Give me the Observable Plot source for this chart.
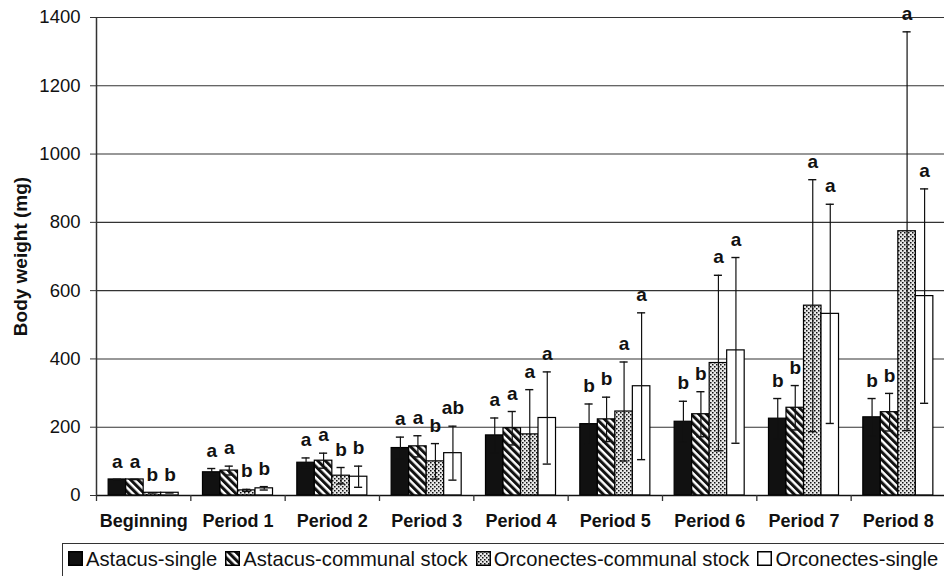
<!DOCTYPE html>
<html>
<head>
<meta charset="utf-8">
<script src="https://cdn.jsdelivr.net/npm/d3@7"></script>
<script src="https://cdn.jsdelivr.net/npm/@observablehq/plot@0.6"></script>
<style>
  html, body { margin: 0; padding: 0; background: #fff; overflow: hidden; }
  #wrap { position: relative; width: 944px; height: 576px; overflow: hidden; font-family: "Liberation Sans", Arial, sans-serif; color: #111; }
  #wrap svg.chart { display: block; }
  #legend { position: absolute; left: 62px; top: 543px; width: 1000px; height: 60px; box-sizing: border-box;
            border: 1.5px solid #333; padding: 6px 0 0 5px; white-space: nowrap; font-size: 20.2px; line-height: 19px; }
  #legend .item { margin-right: 8px; }
  #legend .sw { vertical-align: baseline; margin-right: 3px; }
</style>
</head>
<body>
<svg width="0" height="0" style="position:absolute">
  <defs>
    <pattern id="hatch" patternUnits="userSpaceOnUse" width="5.4" height="5.4" patternTransform="rotate(-45)">
      <rect width="5.4" height="5.4" fill="#fff"/>
      <rect width="3" height="5.4" fill="#111"/>
    </pattern>
    <pattern id="dots" patternUnits="userSpaceOnUse" width="4" height="4">
      <rect width="4" height="4" fill="#e8e8e8"/>
      <rect x="0" y="0" width="1.5" height="1.5" fill="#111"/>
      <rect x="2" y="2" width="1.5" height="1.5" fill="#111"/>
    </pattern>
  </defs>
</svg>
<div id="wrap"></div>
<script>
const periods = ["Beginning", "Period 1", "Period 2", "Period 3", "Period 4", "Period 5", "Period 6", "Period 7", "Period 8"];
const series = ["Astacus-single", "Astacus-communal stock", "Orconectes-communal stock", "Orconectes-single"];

const astacusSingleMean = [47, 68, 96, 139, 176, 209, 216, 225, 229];
const astacusSingleSD = [0, 11, 14, 32, 51, 59, 60, 59, 55];
const astacusSingleLetters = ["a", "a", "a", "a", "a", "b", "b", "b", "b"];

const astacusCommunalMean = [47, 73, 102, 144, 197, 223, 238, 257, 244];
const astacusCommunalSD = [0, 13, 22, 31, 49, 65, 66, 65, 55];
const astacusCommunalLetters = ["a", "a", "a", "a", "a", "b", "b", "b", "b"];

const orconectesCommunalMean = [8, 15, 58, 100, 179, 246, 388, 556, 774];
const orconectesCommunalSD = [0, 3, 24, 52, 131, 145, 257, 369, 584];
const orconectesCommunalLetters = ["b", "b", "b", "b", "a", "a", "a", "a", "a"];

const orconectesSingleMean = [8, 21, 55, 124, 227, 320, 425, 532, 584];
const orconectesSingleSD = [0, 5, 31, 79, 135, 215, 272, 321, 314];
const orconectesSingleLetters = ["b", "b", "b", "ab", "a", "a", "a", "a", "a"];

const yTicks = [0, 200, 400, 600, 800, 1000, 1200, 1400];

const means = [astacusSingleMean, astacusCommunalMean, orconectesCommunalMean, orconectesSingleMean];
const sds = [astacusSingleSD, astacusCommunalSD, orconectesCommunalSD, orconectesSingleSD];
const letters = [astacusSingleLetters, astacusCommunalLetters, orconectesCommunalLetters, orconectesSingleLetters];
const fills = ["#111", "url(#hatch)", "url(#dots)", "#fff"];

// layout inside each period band (fractions of one band)
const barW = 0.1856;
const pad = (1 - 4 * barW) / 2;
const capHalf = 0.043;

const rows = [];
periods.forEach((p, pi) => {
  series.forEach((s, si) => {
    const x1 = pi + pad + si * barW;
    const m = means[si][pi], sd = sds[si][pi];
    rows.push({period: p, series: s, si, x1, x2: x1 + barW, xc: x1 + barW / 2,
               mean: m, lo: m - sd, hi: m + sd, letter: letters[si][pi]});
  });
});

const chart = Plot.plot({
  width: 944,
  height: 540,
  marginTop: 17,
  marginBottom: 45,
  marginLeft: 96,
  marginRight: 0,
  style: {fontFamily: "'Liberation Sans', Arial, sans-serif", fontSize: "18.5px", color: "#111", background: "#fff"},
  x: {domain: [0, periods.length], range: [96, 945]},
  y: {domain: [0, 1400]},
  marks: [
    Plot.gridY(yTicks.slice(1), {stroke: "#333", strokeOpacity: 1, strokeWidth: 1.1}),
    Plot.rectY(rows, {x1: "x1", x2: "x2", y1: 0, y2: "mean", fill: d => fills[d.si], stroke: "#000", strokeWidth: 1.2}),
    Plot.ruleX(rows, {x: "xc", y1: "lo", y2: "hi", stroke: "#111", strokeWidth: 1.2}),
    Plot.ruleY(rows, {y: "hi", x1: d => d.xc - capHalf, x2: d => d.xc + capHalf, stroke: "#111", strokeWidth: 1.4}),
    Plot.ruleY(rows, {y: "lo", x1: d => d.xc - capHalf, x2: d => d.xc + capHalf, stroke: "#111", strokeWidth: 1.4}),
    Plot.ruleY([0], {stroke: "#111", strokeWidth: 1.5}),
    Plot.ruleX([0], {stroke: "#333", strokeWidth: 1.5}),
    Plot.axisY({ticks: yTicks, tickSize: 6, tickPadding: 10, tickFormat: d => String(d), label: null, stroke: "#333"}),
    Plot.axisX({ticks: d3.range(0, periods.length + 1), tickSize: 6, tickFormat: () => "", label: null, stroke: "#333", strokeWidth: 1.3}),
    Plot.text(periods, {x: (d, i) => i + 0.5, frameAnchor: "bottom", dy: 26, lineAnchor: "middle", fontWeight: "bold", fontSize: 18}),
    Plot.text(rows, {x: "xc", y: "hi", text: "letter", dy: -18, lineAnchor: "middle", fontWeight: "bold", fontSize: 19}),
    Plot.text(["Body weight (mg)"], {frameAnchor: "left", textAnchor: "middle", dx: -76, rotate: -90, fontWeight: "bold", fontSize: 19})
  ]
});
chart.classList.add("chart");
const wrap = document.getElementById("wrap");
wrap.appendChild(chart);

const legend = document.createElement("div");
legend.id = "legend";
series.forEach((s, si) => {
  const item = document.createElement("span");
  item.className = "item";
  item.innerHTML = `<svg class="sw" width="15" height="15"><rect x="0.75" y="0.75" width="13.5" height="13.5" fill="${fills[si]}" stroke="#000" stroke-width="1.5"/></svg><span>${s}</span>`;
  legend.appendChild(item);
});
wrap.appendChild(legend);
</script>
</body>
</html>
